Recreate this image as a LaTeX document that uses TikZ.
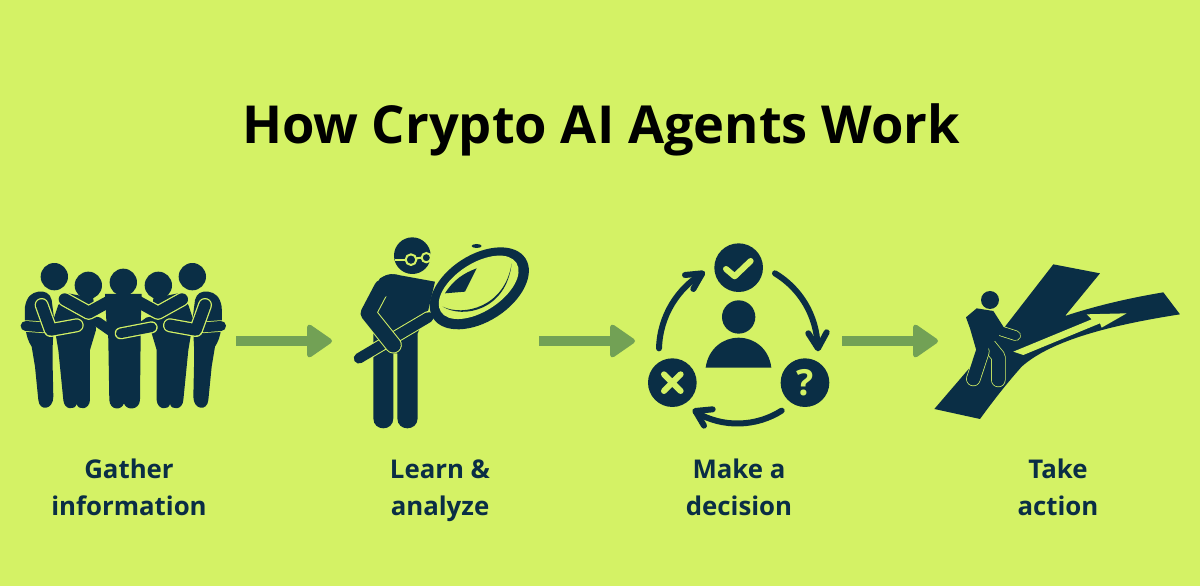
\documentclass[tikz,border=0pt]{standalone}
\usepackage{fontspec}
\setmainfont{Open Sans}
\usetikzlibrary{arrows.meta}
\definecolor{bg}{HTML}{D4F265}
\definecolor{ink}{HTML}{0A2E45}
\definecolor{flow}{HTML}{72A155}
\tikzset{
  inkfill/.style={fill=ink,draw=none},
  limb/.style={draw=bg,line width=14pt,line cap=round,line join=round},
  limbin/.style={draw=ink,line width=11.5pt,line cap=round,line join=round},
  plainlimb/.style={draw=ink,line width=10pt,line cap=round,line join=round},
  cyc/.style={draw=ink,line width=6pt,line cap=round,line join=round},
  glyphstroke/.style={draw=bg,line width=6pt,line cap=round,line join=round},
  flowline/.style={draw=flow,line width=9.5pt,-{Triangle[length=27pt,width=36pt,round,line width=5pt]}},
  captext/.style={text=ink,font=\fontsize{25.8}{36.5}\selectfont\bfseries,align=center,inner sep=0pt},
}
\newcommand{\outlined}[1]{\draw[limb] #1; \draw[limbin] #1;}
\newcommand{\capstrut}{\rule[-8pt]{0pt}{28pt}}
\newcommand{\sidepeople}{%
  % outer person
  \fill[ink] (133,80) circle (41);
  \path[inkfill] (85,125) .. controls (105,122) and (120,130) .. (125,150) -- (132,205) -- (128,290) -- (128,350) -- (130,440)
     .. controls (130,480) and (88,485) .. (85,450) -- (75,350) -- (65,290) .. controls (45,260) and (43,220) .. (45,170) .. controls (50,140) and (65,128) .. (85,125) -- cycle;
  \draw[limb,line width=11.5pt] (47,228) -- (100,232);
  \draw[plainlimb] (47,228) -- (100,232);
  % second person
  \fill[ink] (235,106) circle (41);
  \path[inkfill] (175,130) -- (250,145) -- (258,240) -- (240,300) -- (240,450) .. controls (238,480) and (205,482) .. (200,462)
     .. controls (195,482) and (162,480) .. (160,450) -- (145,300) -- (130,210) -- (145,165) -- cycle;
  \draw[plainlimb] (262,215) -- (305,245);
  \outlined{(95,165) -- (122,240) -- (200,226)}
  \draw[limb,line width=14.5pt] (164,148) -- (236,188) -- (305,150);
  \draw[limbin,line width=12pt] (164,148) -- (236,188) -- (305,150);
}
\begin{document}
\begin{tikzpicture}[x=1pt,y=-1pt]
\useasboundingbox (0,0) rectangle (1200,586);
\fill[bg] (0,0) rectangle (1200,586);

\node[inner sep=0pt,font=\fontsize{52.4}{60}\selectfont\bfseries,text=black] (title) at (601,130) {How Crypto AI Agents Work};

% ---------- people group
\begin{scope}[shift={(10,250)},x=0.3333pt,y=-0.3333pt]
  \fill[ink] (340,97) circle (41);
  \path[inkfill] (290,140) -- (390,140) -- (392,260) -- (390,450) .. controls (388,482) and (348,482) .. (342,460)
     .. controls (335,482) and (300,482) .. (298,450) -- (295,270) -- cycle;
\end{scope}
\begin{scope}[shift={(10,250)},x=0.3333pt,y=-0.3333pt]
  \sidepeople
\end{scope}
\begin{scope}[shift={(236.67,250)},x=-0.3333pt,y=-0.3333pt]
  \sidepeople
\end{scope}
\begin{scope}[shift={(10,250)},x=0.3333pt,y=-0.3333pt]
  \path[inkfill] (285,132) -- (395,132) -- (392,230) -- (290,230) -- cycle;
  \draw[limb,line width=12pt] (332,250) -- (425,232);
  \draw[limbin,line width=9.5pt] (332,250) -- (425,232);
\end{scope}

% ---------- magnifier person
\begin{scope}[shift={(340,230)},x=0.3333pt,y=-0.3333pt]
  \fill[ink] (217,77) circle (55);
  \draw[bg,line width=2pt] (165,89) -- (197,89);
  \draw[bg,line width=2pt] (213,89) circle (16) (229,85) -- (244,83) (259,83) circle (14);
  \path[inkfill] (130,140) .. controls (145,130) and (160,132) .. (175,135) -- (285,155) -- (265,240) -- (233,310) -- (233,565)
    .. controls (232,605) and (172,605) .. (172,565) -- (172,370) -- (160,370) -- (160,565)
    .. controls (160,605) and (100,605) .. (100,565) -- (100,300) -- (110,180) -- cycle;
  \draw[limb,line width=12.5pt] (57,385) -- (265,262);
  \draw[limbin,line width=10.5pt] (57,385) -- (265,262);
  \fill[ink] (410,48) ellipse [x radius=15,y radius=6];
  \fill[ink,rotate around={33:(418,175)}] (418,175) ellipse [x radius=165,y radius=100];
  \fill[bg,rotate around={33:(416,172)}] (416,172) ellipse [x radius=135,y radius=72];
  \path[inkfill] (410,115) -- (375,185) -- (315,190) .. controls (340,150) and (370,130) .. (410,115) -- cycle;
  \path[inkfill] (308,230) .. controls (370,268) and (500,240) .. (515,100) .. controls (495,232) and (370,260) .. (308,230) -- cycle;
  \draw[limb,line width=17pt] (125,172) -- (84,250) -- (160,345);
  \draw[limbin,line width=15pt] (125,172) -- (84,250) -- (160,345);
  % shoulder blends the arm into the torso
  \path[inkfill] (95,190) -- (120,145) .. controls (145,130) and (160,132) .. (175,135) -- (230,180) -- (135,200) -- cycle;
\end{scope}

% ---------- decision cycle
\begin{scope}[shift={(640,235)},x=0.3333pt,y=-0.3333pt]
  \fill[ink] (296,98) circle (73);
  \fill[ink] (97,443) circle (73);
  \fill[ink] (495,443) circle (73);
  \fill[ink] (296,246) circle (50);
  \path[inkfill] (197,398) .. controls (205,340) and (250,308) .. (296,308) .. controls (342,308) and (387,340) .. (394,398) -- cycle;
  \draw[glyphstroke] (258,102) -- (284,124) -- (332,78);
  \draw[glyphstroke] (72,418) -- (122,468) (122,418) -- (72,468);
  \node[text=bg,inner sep=0pt,font=\fontsize{36}{36}\selectfont\bfseries] (qm) at (495,443) {?};
  \draw[cyc] (57,340) .. controls (60,240) and (115,160) .. (185,117);
  \draw[cyc] (135,120) -- (187,115) -- (160,162);
  \draw[cyc] (405,115) .. controls (480,160) and (530,240) .. (533,335);
  \draw[cyc] (505,295) -- (534,340) -- (560,292);
  \draw[cyc] (425,527) .. controls (350,575) and (250,580) .. (168,532);
  \draw[cyc] (218,523) -- (166,528) -- (192,572);
\end{scope}

% ---------- road person
\begin{scope}[shift={(925,255)},x=0.3333pt,y=-0.3333pt]
  \path[inkfill] (385,28) -- (525,55) -- (420,183) .. controls (520,150) and (620,128) .. (715,112) -- (765,178)
    .. controls (560,210) and (380,255) .. (290,335) .. controls (250,380) and (210,430) .. (165,492) -- (28,462) -- (240,215) -- cycle;
  \path[fill=bg] (265,290) -- (500,193) -- (485,178) -- (605,175) -- (530,218) -- (525,205) -- (295,300) -- cycle;
  \fill[ink] (195,135) circle (27);
  \draw[limb,line width=10.5pt] (222,226) -- (272,242);
  \draw[limbin,line width=9pt] (222,226) -- (272,242);
  \draw[limb,line width=14.5pt] (190,268) -- (220,305) -- (220,375);
  \draw[limbin,line width=13pt] (190,268) -- (220,305) -- (220,375);
  \draw[limb,line width=14.5pt] (172,290) -- (145,372);
  \draw[limbin,line width=13pt] (172,290) -- (145,372);
  \path[inkfill] (123,187) -- (155,160) -- (205,168) -- (235,215) -- (215,255) -- (195,265) -- (185,300) -- (158,300) -- (135,220) -- cycle;
\end{scope}

% ---------- arrows
\coordinate (a1s) at (236,341); \coordinate (a1e) at (332,341);
\coordinate (a2s) at (539,341); \coordinate (a2e) at (635,341);
\coordinate (a3s) at (842,341); \coordinate (a3e) at (938,341);
\draw[flowline] (a1s) -- (a1e);
\draw[flowline] (a2s) -- (a2e);
\draw[flowline] (a3s) -- (a3e);

% ---------- captions
\node[captext] (c1) at (129,491) {\capstrut Gather\\\capstrut information};
\node[captext] (c2) at (440,491) {\capstrut Learn \&\\\capstrut analyze};
\node[captext] (c3) at (739,491) {\capstrut Make a\\\capstrut decision};
\node[captext] (c4) at (1058,491) {\capstrut Take\\\capstrut action};
\end{tikzpicture}
\end{document}
